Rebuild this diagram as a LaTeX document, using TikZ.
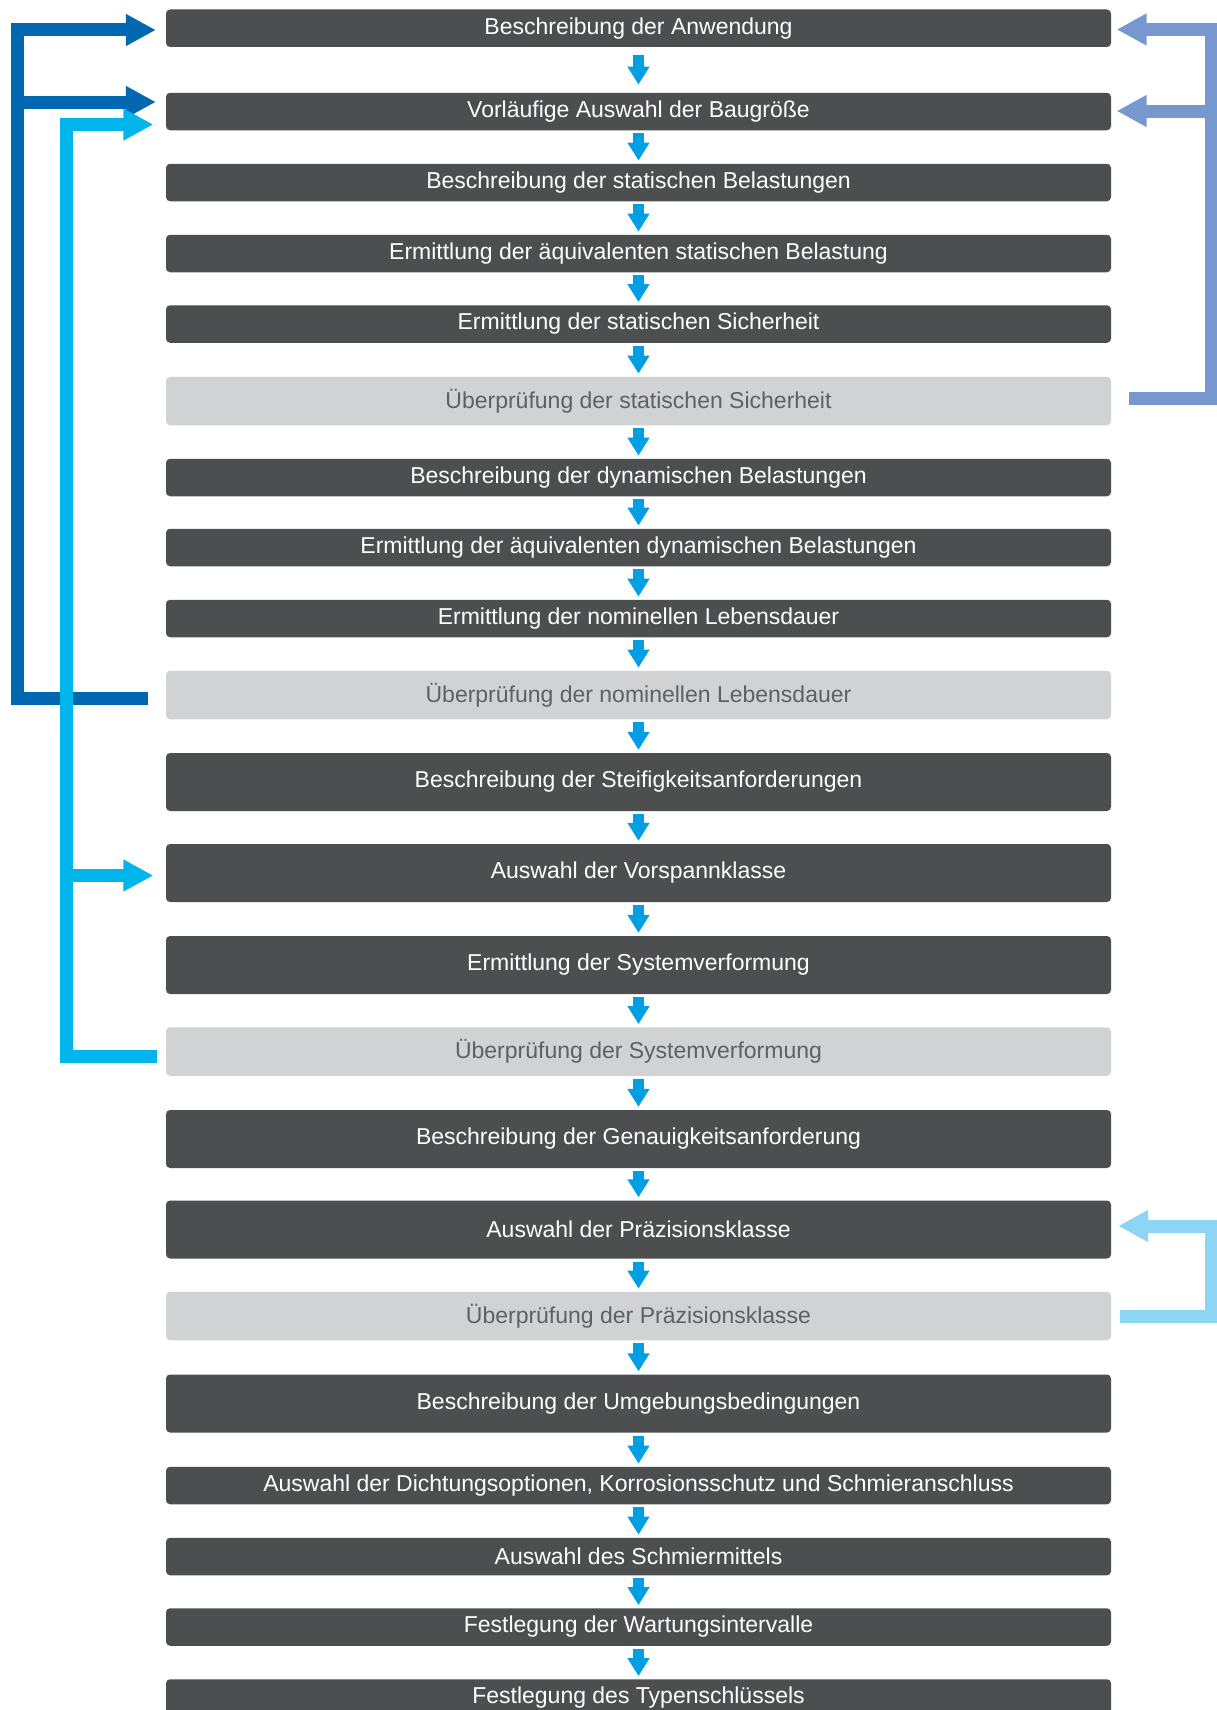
\documentclass[tikz,border=0pt]{standalone}
\usepackage{fontspec}
\setmainfont{Liberation Sans}
\usepackage{tikz}
\usetikzlibrary{arrows.meta, calc, positioning}

\definecolor{boxdark}{HTML}{4D4E50}
\definecolor{boxlight}{HTML}{D1D2D4}
\definecolor{checktext}{HTML}{5F6062}
\definecolor{flowblue}{HTML}{009FE3}
\definecolor{loopdark}{HTML}{0067B1}
\definecolor{loopcyan}{HTML}{00B5EC}
\definecolor{loopsteel}{HTML}{7698CE}
\definecolor{looplight}{HTML}{8ED4F4}

\begin{document}
\begin{tikzpicture}[x=1pt, y=-1pt,
    boxbase/.style={rectangle, rounded corners=4pt, minimum width=945pt, inner sep=0pt,
        font=\fontsize{23}{27}\selectfont},
    small/.style={boxbase, fill=boxdark, text=white, minimum height=37.5pt},
    large/.style={boxbase, fill=boxdark, text=white, minimum height=58pt},
    check/.style={boxbase, fill=boxlight, text=checktext, minimum height=48.5pt},
    down/.style={draw=flowblue, line width=11pt, -{Triangle[length=18pt, width=21pt]},
        shorten <=3pt, shorten >=3pt},
    loopline/.style={draw=#1, line width=13pt, line join=miter,
        -{Triangle[length=30pt, width=30pt]}}
]
    \useasboundingbox (0,0) rectangle (1217,1710);

    % Steps
    \foreach \n/\y/\kind/\txt in {
        1/28.25/small/{Beschreibung der Anwendung},
        2/111.5/small/{Vorläufige Auswahl der Baugröße},
        3/182.5/small/{Beschreibung der statischen Belastungen},
        4/253.5/small/{Ermittlung der äquivalenten statischen Belastung},
        5/324/small/{Ermittlung der statischen Sicherheit},
        6/401/check/{Überprüfung der statischen Sicherheit},
        7/477.5/small/{Beschreibung der dynamischen Belastungen},
        8/547.5/small/{Ermittlung der äquivalenten dynamischen Belastungen},
        9/618.5/small/{Ermittlung der nominellen Lebensdauer},
        10/695/check/{Überprüfung der nominellen Lebensdauer},
        11/782/large/{Beschreibung der Steifigkeitsanforderungen},
        12/873/large/{Auswahl der Vorspannklasse},
        13/965/large/{Ermittlung der Systemverformung},
        14/1051.5/check/{Überprüfung der Systemverformung},
        15/1139/large/{Beschreibung der Genauigkeitsanforderung},
        16/1229.5/large/{Auswahl der Präzisionsklasse},
        17/1316/check/{Überprüfung der Präzisionsklasse},
        18/1403.5/large/{Beschreibung der Umgebungsbedingungen},
        19/1485.5/small/{Auswahl der Dichtungsoptionen, Korrosionsschutz und Schmieranschluss},
        20/1556.5/small/{Auswahl des Schmiermittels},
        21/1627/small/{Festlegung der Wartungsintervalle},
        22/1698/small/{Festlegung des Typenschlüssels}} {
        \node[\kind] (b\n) at (638.5,\y) {\txt};
    }

    % Flow arrows
    \draw[down, shorten <=8pt, shorten >=8pt] (b1) -- (b2);
    \foreach \i in {2,...,21} {
        \pgfmathtruncatemacro\j{\i+1}
        \draw[down] (b\i) -- (b\j);
    }

    % Feedback loops
    \coordinate (colA) at (17.5,0);
    \coordinate (colB) at (66.5,0);
    \coordinate (colR) at (1211,0);

    \coordinate (outA) at ([yshift=-3pt]b10.west);
    \coordinate (inA1) at ([yshift=-1.75pt]b1.west);
    \coordinate (inA2) at ([yshift=9.5pt]b2.west);
    \draw[loopline=loopdark, shorten <=18pt, shorten >=10pt]
        (outA) -- (outA -| colA) -- (inA1 -| colA) -- (inA1);
    \draw[loopline=loopdark, shorten >=10pt] (inA2 -| colA) -- (inA2);

    \coordinate (outB) at ([yshift=-5pt]b14.west);
    \coordinate (inB1) at ([yshift=-13pt]b2.west);
    \coordinate (inB2) at ([yshift=-2.5pt]b12.west);
    \draw[loopline=loopcyan, shorten <=9pt, shorten >=12.5pt]
        (outB) -- (outB -| colB) -- (inB1 -| colB) -- (inB1);
    \draw[loopline=loopcyan, shorten >=12.5pt] (inB2 -| colB) -- (inB2);

    \coordinate (outR) at ([yshift=2.3pt]b6.east);
    \coordinate (inR1) at ([yshift=-1.25pt]b1.east);
    \coordinate (inR2) at ([yshift=0.5pt]b2.east);
    \draw[loopline=loopsteel, shorten <=18pt, shorten >=5.5pt]
        (outR) -- (outR -| colR) -- (inR1 -| colR) -- (inR1);
    \draw[loopline=loopsteel, shorten >=5.5pt] (inR2 -| colR) -- (inR2);

    \coordinate (inP) at ([yshift=3.5pt]b16.east);
    \draw[loopline=looplight, shorten <=9pt, shorten >=7pt]
        (b17.east) -- (b17.east -| colR) -- (inP -| colR) -- (inP);
\end{tikzpicture}
\end{document}
